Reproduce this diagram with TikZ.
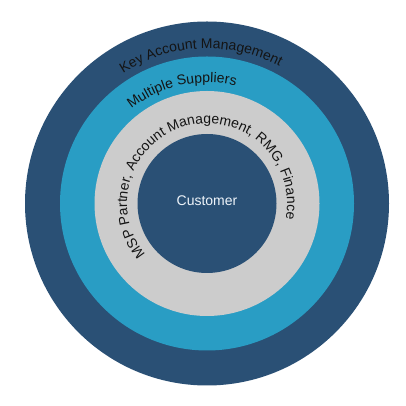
\documentclass[tikz,border=0pt]{standalone}
\usepackage{fontspec}
\setmainfont{Liberation Sans}
\usetikzlibrary{decorations.text}
\definecolor{navy}{HTML}{2A5075}
\definecolor{ringblue}{HTML}{299DC4}
\definecolor{ringgrey}{HTML}{CCCCCC}
\definecolor{labeltext}{HTML}{141414}
\definecolor{custtext}{HTML}{EEF4FA}
\newcommand{\lblfont}{\fontsize{14}{16}\selectfont}
\begin{document}
\begin{tikzpicture}[x=1pt,y=1pt,
  ring/.style={circle, inner sep=0pt, outer sep=0pt, draw=none},
  arclabel/.style={decorate, decoration={text along path, text align=center, text={|\color{labeltext}\lblfont|#1}}}]
\useasboundingbox (0,0) rectangle (406,406);
\coordinate (c) at (207,202.5);
\node[ring, fill=navy, minimum size=364pt] (outer) at (c) {};
\node[ring, fill=ringblue, minimum size=294pt] (middle) at (c) {};
\node[ring, fill=ringgrey, minimum size=225pt] (inner) at (c) {};
\node[ring, fill=navy, minimum size=139pt] (core) at (c) {};
\node[text=custtext, font=\lblfont, inner sep=0pt] (customer) at ([yshift=3pt]c) {Customer};
\path[arclabel={Key Account Management}] (c) ++(182.4:155) arc[start angle=182.4, end angle=2.4, radius=155];
\path[arclabel={Multiple Suppliers}] (c) ++(192.5:121) arc[start angle=192.5, end angle=12.5, radius=121];
\path[arclabel={MSP Partner, Account Management, RMG, Finance}] (c) ++(254.4:80) arc[start angle=254.4, end angle=-45.6, radius=80];
\end{tikzpicture}
\end{document}
